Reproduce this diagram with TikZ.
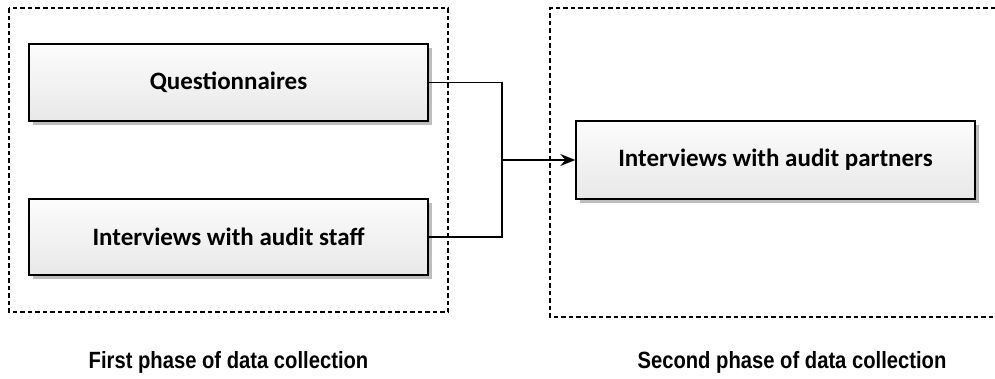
\documentclass[tikz,border=0pt]{standalone}
\usepackage{fontspec}
\setmainfont{Carlito}
\newfontfamily\captionfont[FakeStretch=0.86]{Liberation Sans}
\usetikzlibrary{arrows.meta,shadows}
\definecolor{boxtop}{HTML}{FCFCFC}
\definecolor{boxbottom}{HTML}{E8E8E8}
\definecolor{shadowgray}{HTML}{BDBDBD}
\tikzset{
  stagebox/.style={draw=black, line width=1.4pt, minimum width=399pt,
    top color=boxtop, bottom color=boxbottom, inner sep=0pt,
    font=\fontsize{25}{30}\selectfont\bfseries,
    drop shadow={shadow xshift=4pt, shadow yshift=-4pt, fill=shadowgray, opacity=1}},
  phaseframe/.style={draw=black, line width=1.3pt, dash pattern=on 4.5pt off 3pt},
  link/.style={draw=black, line width=1.3pt},
  phaselabel/.style={font=\captionfont\fontsize{23.5}{28}\selectfont\bfseries}
}
\begin{document}
\begin{tikzpicture}[x=1pt,y=-1pt]
  \useasboundingbox (0,0) rectangle (995,378);
  % phase frames
  \draw[phaseframe] (9,8) rectangle (448,312);
  \draw[phaseframe] (995,8) -- (550,8) -- (550,317) -- (995,317);
  % data collection steps
  \node[stagebox, minimum height=77pt] (quest) at (228.5,82.5) {Questionnaires};
  \node[stagebox, minimum height=76pt] (staff) at (228.5,237) {Interviews with audit staff};
  \node[stagebox, minimum height=78pt] (partners) at (775.5,160) {Interviews with audit partners};
  % merging connector
  \coordinate (merge) at (502,160);
  \draw[link] (quest.east) -| (merge);
  \draw[link] (staff.east) -| (merge);
  \draw[link, -{Stealth[length=15pt,width=12pt,inset=5pt]}] (merge) -- (partners.west);
  % phase captions
  \node[phaselabel] (first) at (228.5,362) {First phase of data collection};
  \node[phaselabel] (second) at (792,362) {Second phase of data collection};
\end{tikzpicture}
\end{document}
